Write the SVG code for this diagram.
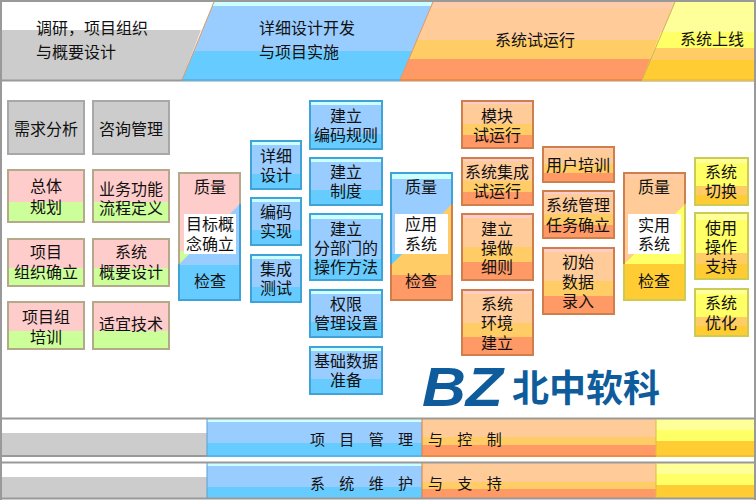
<svg xmlns="http://www.w3.org/2000/svg" width="756" height="500" viewBox="0 0 756 500">
<style>
text{font-family:"Noto Sans CJK SC","Liberation Sans",sans-serif;font-size:16px;fill:#111;text-anchor:middle}
.s{text-anchor:start}
.b{word-spacing:11px;font-size:15px;text-anchor:start}
.gray{fill:#ccc;stroke:#a8a8a8;stroke-width:2}
.pink{fill:url(#gp);stroke:#b5a98c;stroke-width:2}
.blue{fill:url(#gb);stroke:#3fa3d8;stroke-width:2}
.or{fill:url(#go);stroke:#cf7f4c;stroke-width:2}
.ye{fill:url(#gy);stroke:#cccc55;stroke-width:2}
.wh{fill:#fff}
</style>
<defs>
<linearGradient id="gp" x1="0" y1="0" x2="0" y2="1"><stop offset=".62" stop-color="#ffcccc"/><stop offset=".62" stop-color="#ccff99"/></linearGradient>
<linearGradient id="gb" x1="0" y1="0" x2="0" y2="1"><stop offset=".08" stop-color="#ccffff"/><stop offset=".08" stop-color="#99ccff"/><stop offset=".68" stop-color="#99ccff"/><stop offset=".68" stop-color="#66ccff"/></linearGradient>
<linearGradient id="go" x1="0" y1="0" x2="0" y2="1"><stop offset=".06" stop-color="#ffcccc"/><stop offset=".06" stop-color="#ffcc99"/><stop offset=".5" stop-color="#ffcc99"/><stop offset=".5" stop-color="#ffcc66"/><stop offset=".73" stop-color="#ffcc66"/><stop offset=".73" stop-color="#ff9966"/></linearGradient>
<linearGradient id="gy" x1="0" y1="0" x2="0" y2="1"><stop offset=".1" stop-color="#ffff99"/><stop offset=".1" stop-color="#ffff66"/><stop offset=".6" stop-color="#ffff66"/><stop offset=".6" stop-color="#ffcc66"/><stop offset=".78" stop-color="#ffcc66"/><stop offset=".78" stop-color="#ffcc33"/></linearGradient>
</defs>
<rect width="756" height="500" fill="#fff"/>
<g id="header">
<polygon points="2,30 201,30 182,80 2,80" fill="#ccc"/>
<polygon points="214,2 433,2 400,80 182,80" fill="#99ccff"/>
<polygon points="194,51 413,51 400,80 182,80" fill="#66ccff"/>
<polygon points="213,2 433,2 431,6 211,6" fill="#ccffff"/>
<polygon points="433,2 675,2 642,80 400,80" fill="#ffcc99"/>
<polygon points="433,2 675,2 672,8 430,8" fill="#ffccaa"/>
<polygon points="417,40 658,40 642,80 400,80" fill="#ffcc66"/>
<polygon points="409,59 651,59 642,80 400,80" fill="#ff9966"/>
<polygon points="675,2 754,2 754,80 642,80" fill="#ffff99"/>
<polygon points="661,32 754,32 754,80 642,80" fill="#ffff66"/>
<polygon points="655,48 754,48 754,80 642,80" fill="#ffcc66"/>
<polygon points="650,60 754,60 754,80 642,80" fill="#ffcc33"/>
<path d="M214 2L182 80M433 2L400 80" fill="none" stroke="#dd9966" stroke-width="1"/>
<path d="M675 2L642 80" fill="none" stroke="#ccb060" stroke-width="1"/>
<path d="M0 80.500H756" stroke="#999" stroke-width="2" fill="none"/>
<path d="M1 500V1H755V500" stroke="#999" stroke-width="2" fill="none"/>
<path d="M182 80H400" stroke="#5ab4e6" stroke-width="2"/><path d="M400 80H642" stroke="#f08a40" stroke-width="2"/><path d="M642 80H754" stroke="#f0c030" stroke-width="2"/>
<text class="s" x="36" y="34">调研，项目组织</text>
<text class="s" x="36" y="58">与概要设计</text>
<text class="s" x="259" y="34">详细设计开发</text>
<text class="s" x="259" y="58">与项目实施</text>
<text class="s" x="495" y="46">系统试运行</text>
<text class="s" x="680" y="45">系统上线</text>
</g>
<g id="n-xqfx"><rect class="gray" x="8" y="101" width="76" height="53"/><text x="46" y="135">需求分析</text></g>
<g id="n-zxgl"><rect class="gray" x="93" y="101" width="76" height="53"/><text x="131" y="135">咨询管理</text></g>
<g id="n-ztgh"><rect class="pink" x="8" y="170" width="76" height="52"/><text x="46" y="192">总体</text><text x="46" y="213">规划</text></g>
<g id="n-ywgn"><rect class="pink" x="93" y="170" width="76" height="52"/><text x="131" y="195">业务功能</text><text x="131" y="214">流程定义</text></g>
<g id="n-xmzz"><rect class="pink" x="8" y="239" width="76" height="47"/><text x="46" y="258">项目</text><text x="46" y="278">组织确立</text></g>
<g id="n-xtgy"><rect class="pink" x="93" y="239" width="76" height="47"/><text x="131" y="258">系统</text><text x="131" y="278">概要设计</text></g>
<g id="n-xmzp"><rect class="pink" x="8" y="302" width="76" height="47"/><text x="46" y="323">项目组</text><text x="46" y="343">培训</text></g>
<g id="n-syjs"><rect class="pink" x="93" y="302" width="76" height="47"/><text x="131" y="330">适宜技术</text></g>
<g id="q1">
<rect x="179" y="173" width="61" height="127" fill="#99ccff"/>
<polygon points="179,173 240,173 240,204 179,264" fill="#ffcccc"/>
<polygon points="179,251 192,251 179,264" fill="#ccff99"/>
<rect x="179" y="265" width="61" height="35" fill="#66ccff"/>
<path d="M179 264V173H240V204" fill="none" stroke="#b5a98c" stroke-width="2"/>
<path d="M240 204V300H179V264" fill="none" stroke="#3fa3d8" stroke-width="2"/>
<rect class="wh" x="184" y="214" width="52" height="40"/>
<text x="210" y="193">质量</text><text x="210" y="230">目标概</text><text x="210" y="250">念确立</text><text x="210" y="287">检查</text>
</g>
<g id="n-xxsj"><rect class="blue" x="251" y="141" width="50" height="48"/><text x="276" y="162">详细</text><text x="276" y="181">设计</text></g>
<g id="n-bmsx"><rect class="blue" x="251" y="198" width="50" height="47"/><text x="276" y="218">编码</text><text x="276" y="237">实现</text></g>
<g id="n-jccs"><rect class="blue" x="251" y="255" width="50" height="47"/><text x="276" y="275">集成</text><text x="276" y="294">测试</text></g>
<g id="n-jlbm"><rect class="blue" x="310" y="101" width="72" height="48"/><text x="346" y="122">建立</text><text x="346" y="141">编码规则</text></g>
<g id="n-jlzd"><rect class="blue" x="310" y="158" width="72" height="47"/><text x="346" y="178">建立</text><text x="346" y="197">制度</text></g>
<g id="n-jlfb"><rect class="blue" x="310" y="214" width="72" height="66"/><text x="346" y="235">建立</text><text x="346" y="254">分部门的</text><text x="346" y="273">操作方法</text></g>
<g id="n-qxgl"><rect class="blue" x="310" y="290" width="72" height="47"/><text x="346" y="310">权限</text><text x="346" y="329">管理设置</text></g>
<g id="n-jcsj"><rect class="blue" x="310" y="347" width="72" height="47"/><text x="346" y="367">基础数据</text><text x="346" y="386">准备</text></g>
<g id="q2">
<rect x="391" y="173" width="61" height="127" fill="#ffcc66"/>
<polygon points="391,173 452,173 452,204 391,265" fill="#99ccff"/>
<rect x="391" y="173" width="61" height="6" fill="#ccffff"/>
<polygon points="391,254 402,254 391,265" fill="#66ccff"/>
<rect x="391" y="275" width="61" height="25" fill="#ff9966"/>
<path d="M391 264V173H452V204" fill="none" stroke="#3fa3d8" stroke-width="2"/>
<path d="M452 204V300H391V264" fill="none" stroke="#cf7f4c" stroke-width="2"/>
<rect class="wh" x="395" y="214" width="53" height="40"/>
<text x="421" y="193">质量</text><text x="421" y="230">应用</text><text x="421" y="250">系统</text><text x="421" y="287">检查</text>
</g>
<g id="n-mksy"><rect class="or" x="462" y="101" width="71" height="47"/><text x="497" y="122">模块</text><text x="497" y="141">试运行</text></g>
<g id="n-xtjc"><rect class="or" x="462" y="158" width="71" height="47"/><text x="497" y="178">系统集成</text><text x="497" y="197">试运行</text></g>
<g id="n-jlcz"><rect class="or" x="462" y="214" width="71" height="66"/><text x="497" y="235">建立</text><text x="497" y="254">操做</text><text x="497" y="273">细则</text></g>
<g id="n-xthj"><rect class="or" x="462" y="290" width="71" height="65"/><text x="497" y="310">系统</text><text x="497" y="329">环境</text><text x="497" y="349">建立</text></g>
<g id="n-yhpx"><rect class="or" x="543" y="147" width="71" height="35"/><text x="578" y="171">用户培训</text></g>
<g id="n-xtgl"><rect class="or" x="543" y="191" width="71" height="47"/><text x="578" y="211">系统管理</text><text x="578" y="231">任务确立</text></g>
<g id="n-csst"><rect class="or" x="543" y="248" width="71" height="66"/><text x="578" y="268">初始</text><text x="578" y="288">数据</text><text x="578" y="307">录入</text></g>
<g id="q3">
<rect x="624" y="173" width="61" height="127" fill="#ffcc33"/>
<polygon points="685,204 685,264 624,264" fill="#ffff66"/>
<polygon points="624,173 685,173 685,204 624,264" fill="#ffcc99"/>
<rect x="624" y="173" width="61" height="5" fill="#ffccaa"/>
<path d="M624 264V173H685V204" fill="none" stroke="#cf7f4c" stroke-width="2"/>
<path d="M685 204V300H624V264" fill="none" stroke="#cccc55" stroke-width="2"/>
<rect class="wh" x="628" y="214" width="53" height="40"/>
<text x="654" y="193">质量</text><text x="654" y="231">实用</text><text x="654" y="250">系统</text><text x="654" y="287">检查</text>
</g>
<g id="n-xtqh"><rect class="ye" x="695" y="158" width="53" height="47"/><text x="721" y="178">系统</text><text x="721" y="197">切换</text></g>
<g id="n-sycz"><rect class="ye" x="695" y="213" width="53" height="66"/><text x="721" y="234">使用</text><text x="721" y="253">操作</text><text x="721" y="272">支持</text></g>
<g id="n-xtyh"><rect class="ye" x="695" y="289" width="53" height="47"/><text x="721" y="309">系统</text><text x="721" y="329">优化</text></g>
<g id="logo">
<text x="422" y="406" textLength="81" lengthAdjust="spacingAndGlyphs" style="font-family:'Liberation Sans',sans-serif;font-size:55px;font-weight:bold;font-style:italic;fill:#0f5c9c;text-anchor:start">BZ</text>
<text x="512" y="402" style="font-size:37px;font-weight:bold;fill:#0f5c9c;text-anchor:start">北中软科</text>
</g>
<g id="bar1">
<rect x="2" y="419" width="205" height="37" fill="#fff"/>
<rect x="2" y="433" width="205" height="23" fill="#ccc"/>
<rect x="207" y="419" width="215" height="37" fill="#99ccff"/>
<rect x="207" y="419" width="215" height="3" fill="#ccffff"/>
<rect x="207" y="443" width="215" height="13" fill="#66ccff"/>
<rect x="422" y="419" width="234" height="37" fill="#ffcc99"/>
<rect x="422" y="437" width="234" height="8" fill="#ffcc66"/>
<rect x="422" y="445" width="234" height="11" fill="#ff9966"/>
<rect x="656" y="419" width="98" height="37" fill="#ffff99"/>
<rect x="656" y="430" width="98" height="11" fill="#ffff66"/>
<rect x="656" y="441" width="98" height="15" fill="#ffcc33"/>
<path d="M0 418.500H756M0 456H207" stroke="#999" stroke-width="2" fill="none"/>
<path d="M207 456H422" stroke="#5ab4e6" stroke-width="2"/><path d="M422 456H656" stroke="#f08a40" stroke-width="2"/><path d="M656 456H754" stroke="#f0c030" stroke-width="2"/>
<path d="M207 419V456" stroke="#5a9fd0"/><path d="M422 419V456" stroke="#d9803f"/><path d="M656 419V456" stroke="#d8c040"/>
<text class="b" x="310" y="445">项 目 管 理</text>
<text class="b" x="428" y="445">与 控 制</text>
</g>
<g id="bar2">
<rect x="2" y="463" width="205" height="36" fill="#fff"/>
<rect x="2" y="477" width="205" height="21" fill="#ccc"/>
<rect x="207" y="463" width="215" height="35" fill="#99ccff"/>
<rect x="207" y="463" width="215" height="3" fill="#ccffff"/>
<rect x="207" y="487" width="215" height="11" fill="#66ccff"/>
<rect x="422" y="463" width="234" height="35" fill="#ffcc99"/>
<rect x="422" y="482" width="234" height="7" fill="#ffcc66"/>
<rect x="422" y="489" width="234" height="9" fill="#ff9966"/>
<rect x="656" y="463" width="98" height="35" fill="#ffff99"/>
<rect x="656" y="474" width="98" height="11" fill="#ffff66"/>
<rect x="656" y="485" width="98" height="13" fill="#ffcc33"/>
<path d="M0 462.500H756M0 498.500H756" stroke="#999" stroke-width="2" fill="none"/>
<path d="M207 463V498" stroke="#5a9fd0"/><path d="M422 463V498" stroke="#d9803f"/><path d="M656 463V498" stroke="#d8c040"/>
<text class="b" x="310" y="489">系 统 维 护</text>
<text class="b" x="428" y="489">与 支 持</text>
</g>
<g id="connectors"/>
</svg>
